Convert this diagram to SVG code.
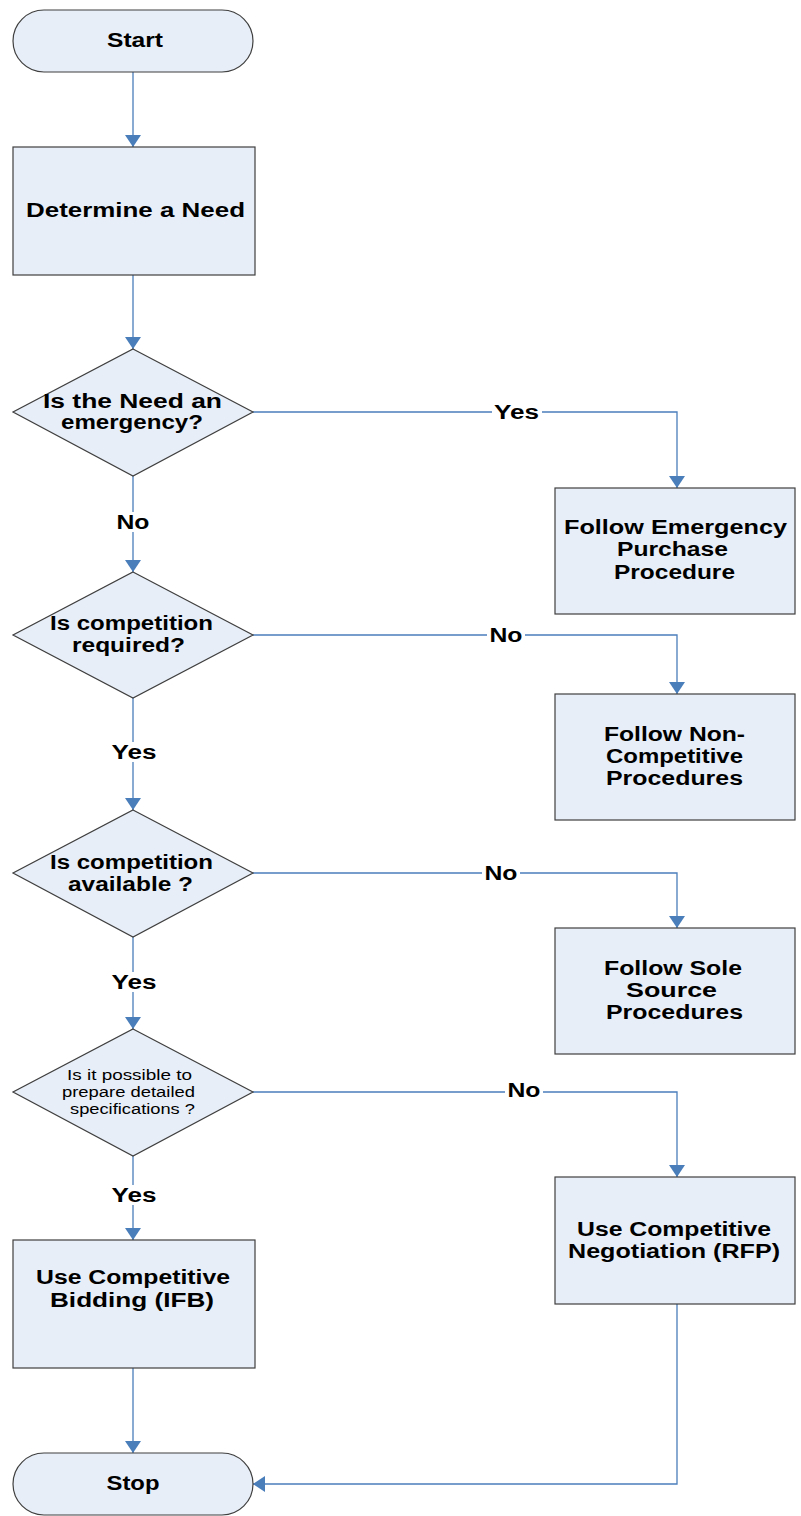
<svg xmlns="http://www.w3.org/2000/svg" width="801" height="1516" viewBox="0 0 801 1516">
<style>
.n{fill:#E8EEF7;stroke:#3F3F3F;stroke-width:1.2}
.t{font-family:"Liberation Sans",Arial,sans-serif;font-weight:bold;font-size:20px;fill:#000;text-anchor:middle}
.s{font-family:"Liberation Sans",Arial,sans-serif;font-size:14px;fill:#000;text-anchor:middle}
.c{fill:none;stroke:#4A7EBB;stroke-width:1.3}
.lb{fill:#fff}
</style>
<defs>
<marker id="a" viewBox="0 0 12 16" refX="12" refY="8" markerWidth="12" markerHeight="16" markerUnits="userSpaceOnUse" orient="auto">
<path d="M0,0 L12,8 L0,16 z" fill="#4A7EBB"/>
</marker>
</defs>
<rect width="801" height="1516" fill="#fff"/>
<g id="connectors">
<path class="c" d="M133,72 V147" marker-end="url(#a)"/>
<path class="c" d="M133,275 V349" marker-end="url(#a)"/>
<path class="c" d="M133,476 V572" marker-end="url(#a)"/>
<path class="c" d="M133,698 V810" marker-end="url(#a)"/>
<path class="c" d="M133,937 V1029" marker-end="url(#a)"/>
<path class="c" d="M133,1156 V1240" marker-end="url(#a)"/>
<path class="c" d="M133,1368 V1453" marker-end="url(#a)"/>
<path class="c" d="M253,412 H677 V488" marker-end="url(#a)"/>
<path class="c" d="M253,635 H677 V694" marker-end="url(#a)"/>
<path class="c" d="M253,873 H677 V928" marker-end="url(#a)"/>
<path class="c" d="M253,1092 H677 V1177" marker-end="url(#a)"/>
<path class="c" d="M677,1304 V1484 H253" marker-end="url(#a)"/>
<rect class="lb" x="492" y="402" width="50" height="20"/>
<text class="t" x="516.5" y="419" textLength="45" lengthAdjust="spacingAndGlyphs">Yes</text>
<rect class="lb" x="114" y="512" width="38" height="20"/>
<text class="t" x="133" y="529" textLength="33" lengthAdjust="spacingAndGlyphs">No</text>
<rect class="lb" x="487" y="625" width="38" height="20"/>
<text class="t" x="506" y="642" textLength="33" lengthAdjust="spacingAndGlyphs">No</text>
<rect class="lb" x="108" y="742" width="50" height="20"/>
<text class="t" x="134" y="759" textLength="45" lengthAdjust="spacingAndGlyphs">Yes</text>
<rect class="lb" x="482" y="863" width="38" height="20"/>
<text class="t" x="501" y="880" textLength="33" lengthAdjust="spacingAndGlyphs">No</text>
<rect class="lb" x="108" y="972" width="50" height="20"/>
<text class="t" x="134" y="989" textLength="45" lengthAdjust="spacingAndGlyphs">Yes</text>
<rect class="lb" x="505" y="1080" width="38" height="20"/>
<text class="t" x="524" y="1097" textLength="33" lengthAdjust="spacingAndGlyphs">No</text>
<rect class="lb" x="108" y="1185" width="50" height="20"/>
<text class="t" x="134" y="1202" textLength="45" lengthAdjust="spacingAndGlyphs">Yes</text>
</g>
<g id="start">
<rect class="n" x="13" y="10" width="240" height="62" rx="31"/>
<text class="t" x="135" y="47" textLength="56" lengthAdjust="spacingAndGlyphs">Start</text>
</g>
<g id="determine">
<rect class="n" x="13" y="147" width="242" height="128"/>
<text class="t" x="135.5" y="217" textLength="219" lengthAdjust="spacingAndGlyphs">Determine a Need</text>
</g>
<g id="d1">
<polygon class="n" points="133,349 253,412 133,476 13,412"/>
<text class="t" x="132.5" y="408" textLength="179" lengthAdjust="spacingAndGlyphs">Is the Need an</text>
<text class="t" x="132" y="429" textLength="142" lengthAdjust="spacingAndGlyphs">emergency?</text>
</g>
<g id="emergency">
<rect class="n" x="555" y="488" width="240" height="126"/>
<text class="t" x="675.5" y="534" textLength="223" lengthAdjust="spacingAndGlyphs">Follow Emergency</text>
<text class="t" x="672.5" y="556" textLength="111" lengthAdjust="spacingAndGlyphs">Purchase</text>
<text class="t" x="674.5" y="579" textLength="121" lengthAdjust="spacingAndGlyphs">Procedure</text>
</g>
<g id="d2">
<polygon class="n" points="133,572 253,635 133,698 13,635"/>
<text class="t" x="131.5" y="630" textLength="163" lengthAdjust="spacingAndGlyphs">Is competition</text>
<text class="t" x="128.5" y="652" textLength="113" lengthAdjust="spacingAndGlyphs">required?</text>
</g>
<g id="noncomp">
<rect class="n" x="555" y="694" width="240" height="126"/>
<text class="t" x="674.5" y="741" textLength="141" lengthAdjust="spacingAndGlyphs">Follow Non-</text>
<text class="t" x="674.5" y="763" textLength="137" lengthAdjust="spacingAndGlyphs">Competitive</text>
<text class="t" x="674.5" y="785" textLength="137" lengthAdjust="spacingAndGlyphs">Procedures</text>
</g>
<g id="d3">
<polygon class="n" points="133,810 253,873 133,937 13,873"/>
<text class="t" x="131.5" y="869" textLength="163" lengthAdjust="spacingAndGlyphs">Is competition</text>
<text class="t" x="130.5" y="891" textLength="125" lengthAdjust="spacingAndGlyphs">available ?</text>
</g>
<g id="sole">
<rect class="n" x="555" y="928" width="240" height="126"/>
<text class="t" x="673" y="975" textLength="138" lengthAdjust="spacingAndGlyphs">Follow Sole</text>
<text class="t" x="671.5" y="997" textLength="91" lengthAdjust="spacingAndGlyphs">Source</text>
<text class="t" x="674.5" y="1019" textLength="137" lengthAdjust="spacingAndGlyphs">Procedures</text>
</g>
<g id="d4">
<polygon class="n" points="133,1029 253,1092 133,1156 13,1092"/>
<text class="s" x="129.5" y="1080" textLength="125" lengthAdjust="spacingAndGlyphs">Is it possible to</text>
<text class="s" x="128.5" y="1097" textLength="133" lengthAdjust="spacingAndGlyphs">prepare detailed</text>
<text class="s" x="132.5" y="1114" textLength="125" lengthAdjust="spacingAndGlyphs">specifications ?</text>
</g>
<g id="rfp">
<rect class="n" x="555" y="1177" width="240" height="127"/>
<text class="t" x="674" y="1236" textLength="194" lengthAdjust="spacingAndGlyphs">Use Competitive</text>
<text class="t" x="674" y="1258" textLength="212" lengthAdjust="spacingAndGlyphs">Negotiation (RFP)</text>
</g>
<g id="ifb">
<rect class="n" x="13" y="1240" width="242" height="128"/>
<text class="t" x="133" y="1284" textLength="194" lengthAdjust="spacingAndGlyphs">Use Competitive</text>
<text class="t" x="132" y="1307" textLength="164" lengthAdjust="spacingAndGlyphs">Bidding (IFB)</text>
</g>
<g id="stop">
<rect class="n" x="13" y="1453" width="240" height="62" rx="31"/>
<text class="t" x="133" y="1490" textLength="53" lengthAdjust="spacingAndGlyphs">Stop</text>
</g>
</svg>
